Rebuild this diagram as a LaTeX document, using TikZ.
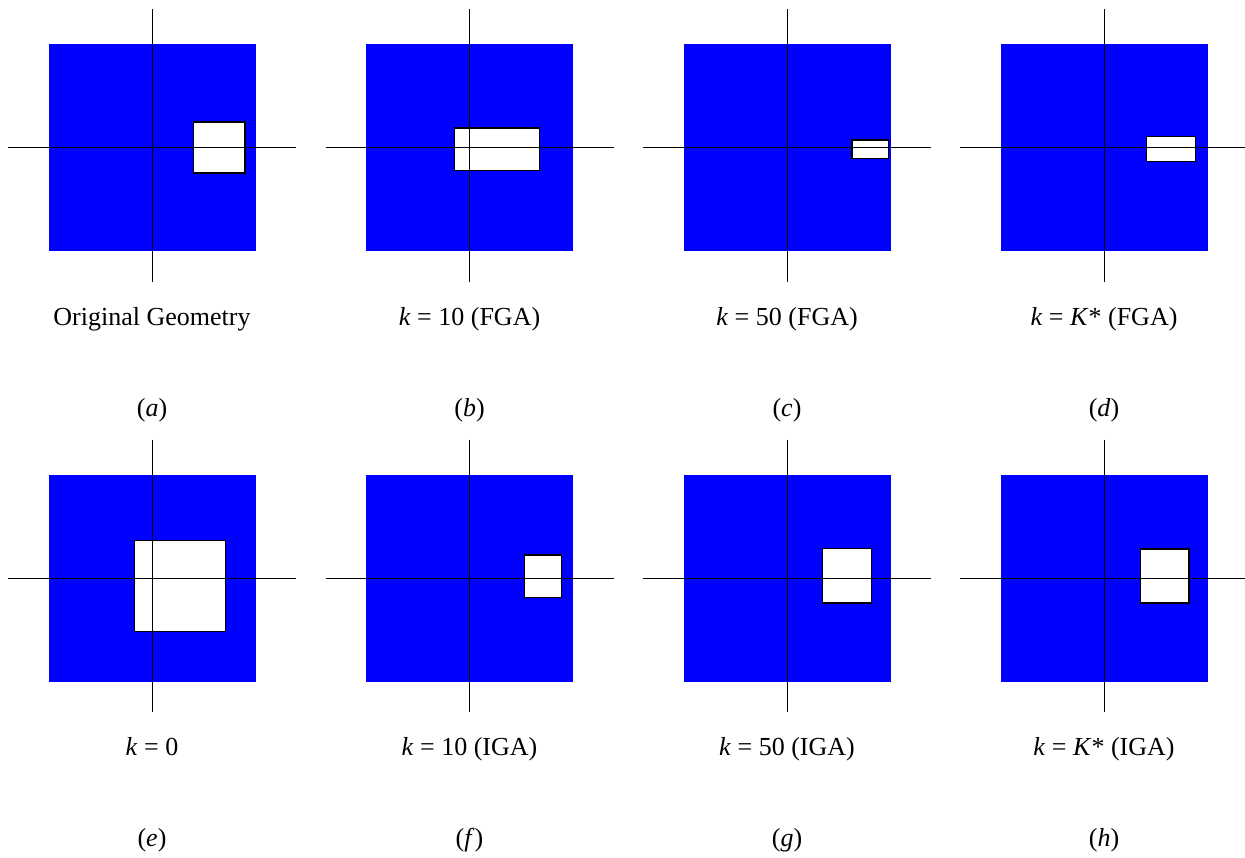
\documentclass[tikz,border=0pt]{standalone}
\usepackage{fontspec}
\setmainfont{Liberation Serif}
\begin{document}
\begin{tikzpicture}[x=1pt, y=-1pt, font=\fontsize{26}{31}\selectfont,
	plate/.style={fill=blue},
	hole/.style={draw=black, line width=1.2pt, fill=white},
	axis/.style={black, line width=0.9pt},
	caption/.style={anchor=base}]
	\useasboundingbox (0,0) rectangle (1245,857);
	
	\fill[plate] (48.5,44) rectangle (255.5,251);
	\draw[hole] (193.7,122) rectangle (245,173);
	\draw[axis] (152,8.5) -- (152,281.5);
	\draw[axis] (8,147.5) -- (296,147.5);
	\node[caption] (la) at (152,325) {Original Geometry};
	\node[caption] (sa) at (152,416) {(\textit{a})};
	
	\fill[plate] (366,44) rectangle (573,251);
	\draw[hole] (454.7,128) rectangle (539.7,170.3);
	\draw[axis] (469.5,8.5) -- (469.5,281.5);
	\draw[axis] (325.5,147.5) -- (613.5,147.5);
	\node[caption] (lb) at (469.5,325) {\textit{k} = 10 (FGA)};
	\node[caption] (sb) at (469.5,416) {(\textit{b})};
	
	\fill[plate] (683.5,44) rectangle (890.5,251);
	\draw[hole] (852,140) rectangle (888.7,158.3);
	\draw[axis] (787,8.5) -- (787,281.5);
	\draw[axis] (643,147.5) -- (931,147.5);
	\node[caption] (lc) at (787,325) {\textit{k} = 50 (FGA)};
	\node[caption] (sc) at (787,416) {(\textit{c})};
	
	\fill[plate] (1000.5,44) rectangle (1207.5,251);
	\draw[hole] (1146.7,136.7) rectangle (1195.3,161.3);
	\draw[axis] (1104,8.5) -- (1104,281.5);
	\draw[axis] (960,147.5) -- (1248,147.5);
	\node[caption] (ld) at (1104,325) {\textit{k} = \textit{K}* (FGA)};
	\node[caption] (sd) at (1104,416) {(\textit{d})};
	
	\fill[plate] (48.5,474.5) rectangle (255.5,681.5);
	\draw[hole] (134.7,540.3) rectangle (225.3,631.3);
	\draw[axis] (152,439.5) -- (152,711.5);
	\draw[axis] (8,578) -- (296,578);
	\node[caption] (le) at (152,755) {\textit{k} = 0};
	\node[caption] (se) at (152,846) {(\textit{e})};
	
	\fill[plate] (366,474.5) rectangle (573,681.5);
	\draw[hole] (524.7,555) rectangle (561.3,597.3);
	\draw[axis] (469.5,439.5) -- (469.5,711.5);
	\draw[axis] (325.5,578) -- (613.5,578);
	\node[caption] (lf) at (469.5,755) {\textit{k} = 10 (IGA)};
	\node[caption] (sf) at (469.5,846) {(\textit{f})};
	
	\fill[plate] (683.5,474.5) rectangle (890.5,681.5);
	\draw[hole] (822.7,548.7) rectangle (871.3,603);
	\draw[axis] (787,439.5) -- (787,711.5);
	\draw[axis] (643,578) -- (931,578);
	\node[caption] (lg) at (787,755) {\textit{k} = 50 (IGA)};
	\node[caption] (sg) at (787,846) {(\textit{g})};
	
	\fill[plate] (1000.5,474.5) rectangle (1207.5,681.5);
	\draw[hole] (1140.3,549) rectangle (1189,603);
	\draw[axis] (1104,439.5) -- (1104,711.5);
	\draw[axis] (960,578) -- (1248,578);
	\node[caption] (lh) at (1104,755) {\textit{k} = \textit{K}* (IGA)};
	\node[caption] (sh) at (1104,846) {(\textit{h})};
\end{tikzpicture}
\end{document}
